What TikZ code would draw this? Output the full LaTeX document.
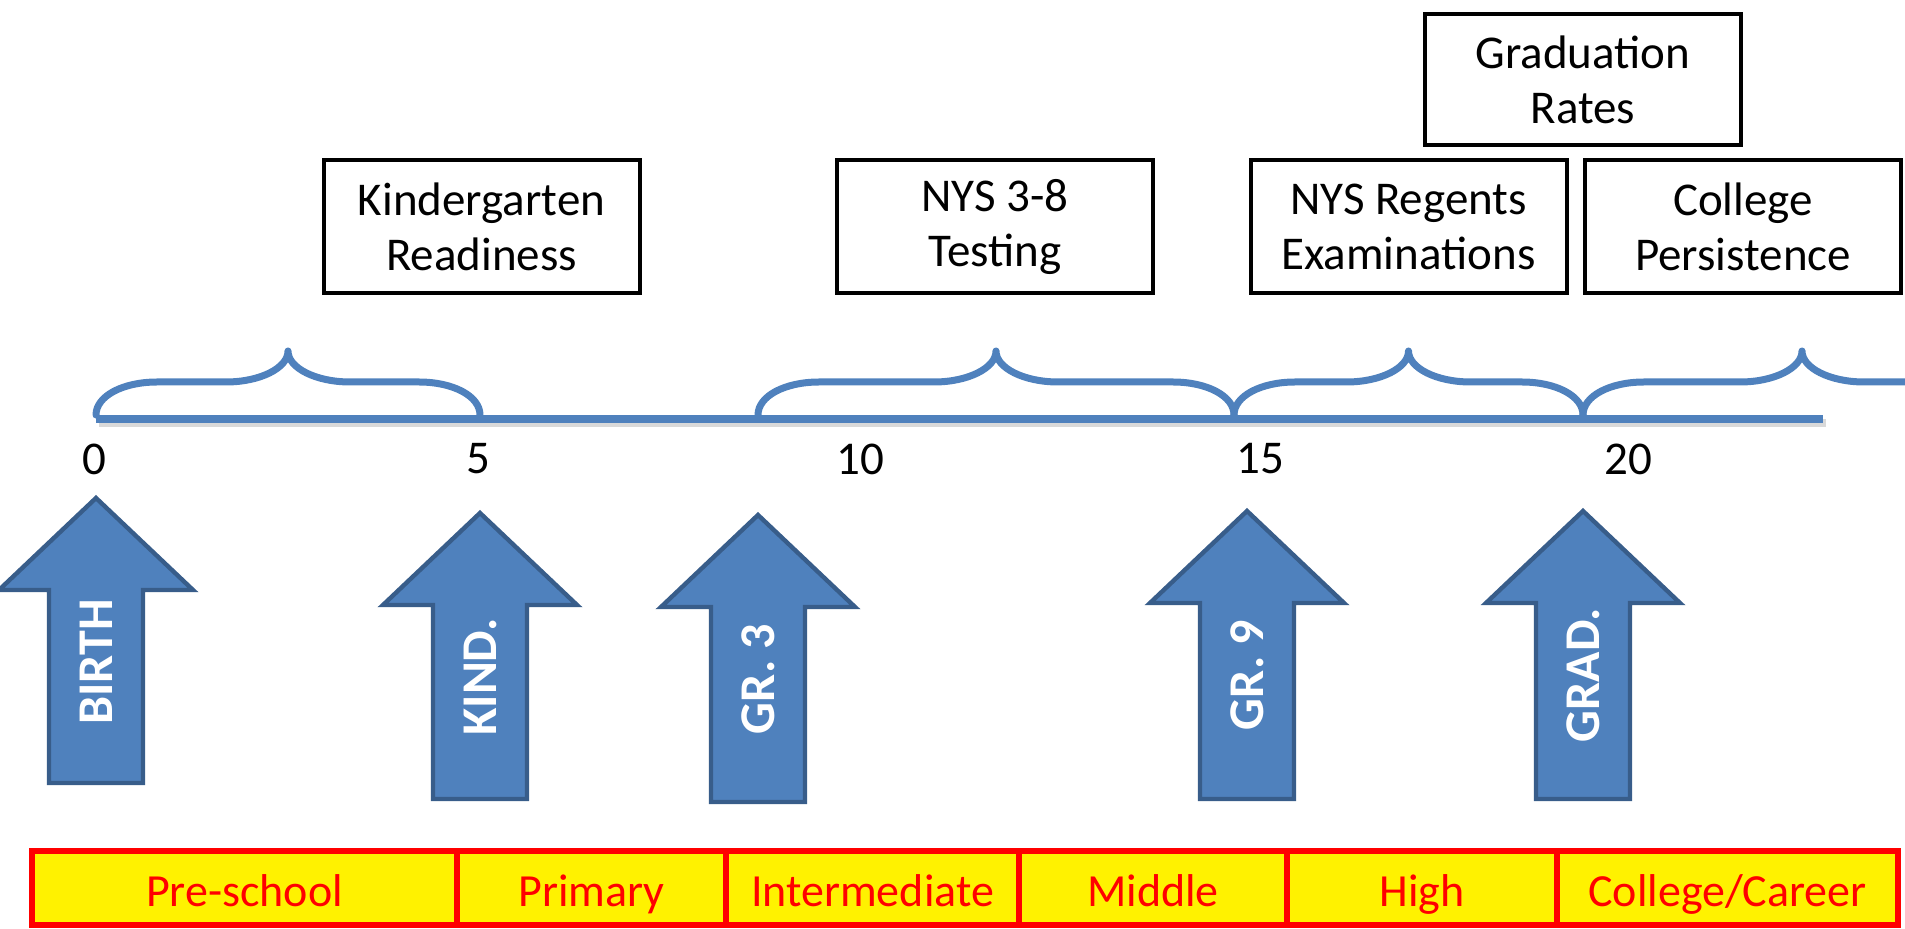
\documentclass[tikz,border=0pt]{standalone}
\usepackage{fontspec}
\setmainfont{Carlito}
\definecolor{obl}{HTML}{4F81BD}
\definecolor{obd}{HTML}{385D8A}
\newcommand\uparrowmark[5]{% name, cx, tip y, bottom y, label
  \draw[arrowbody] (#2,#3) -- (#2+97,#3+92) -- (#2+47,#3+92) -- (#2+47,#4)
     -- (#2-47,#4) -- (#2-47,#3+92) -- (#2-97,#3+92) -- cycle;
  \node[arrowlab] (#1) at (#2,#3+164) {#5};}
\newcommand\tlbrace[2]{% xL, xR
  \pgfmathsetmacro\xm{(#1+#2)/2}
  \draw[bracestyle] (#1,415) .. controls (#1,396) and (#1+27,382) .. (#1+61,382)
     -- (\xm-62,382) .. controls (\xm-28,382) and (\xm,368) .. (\xm,351)
     .. controls (\xm,368) and (\xm+28,382) .. (\xm+62,382)
     -- (#2-61,382) .. controls (#2-27,382) and (#2,396) .. (#2,415);}
\begin{document}
\begin{tikzpicture}[x=0.5pt,y=-0.5pt,
  infobox/.style={draw=black, line width=2pt, fill=white, align=center, inner sep=0pt,
     minimum width=158pt, minimum height=66.5pt, font=\fontsize{23.5}{27.5}\selectfont},
  ticklab/.style={font=\fontsize{23.5}{27.5}\selectfont, inner sep=0pt},
  cell/.style={draw=red, fill=yellow, line width=3pt, minimum height=37pt, inner sep=0pt,
     text=red, font=\fontsize{23}{27.5}\selectfont, text height=22pt, text depth=4pt},
  arrowbody/.style={fill=obl, draw=obd, line width=2.2pt, line join=miter},
  arrowlab/.style={text=white, font=\bfseries\fontsize{25}{30}\selectfont, rotate=90, inner sep=0pt},
  bracestyle/.style={draw=obl, line width=3.5pt, line cap=round, line join=round},
  axisline/.style={draw=obl, line width=4pt},
  axisshadow/.style={draw=black, opacity=0.15, line width=4pt}]
\useasboundingbox (0,0) rectangle (1905,929);

% info boxes
\node[infobox] (kr) at (481.5,226.5) {Kindergarten\\Readiness};
\node[infobox] (nys) at (995,226.5) {NYS 3-8\\Testing};
\node[infobox] (reg) at (1408.5,226.5) {NYS Regents\\Examinations};
\node[infobox] (cp) at (1743,227) {College\\Persistence};
\node[infobox, minimum height=65.5pt] (gr) at (1583,79.5) {Graduation\\Rates};

% timeline
\coordinate (tlstart) at (96,419);
\coordinate (tlend) at (1823,419);
\draw[axisshadow] ([shift={(3,4)}]tlstart) -- ([shift={(3,4)}]tlend);
\draw[axisline] (tlstart) -- (tlend);

% braces
\tlbrace{96}{480}
\tlbrace{758}{1234}
\tlbrace{1234}{1583}
\begin{scope}
  \clip (0,0) rectangle (1905,929);
  \tlbrace{1583}{2021}
\end{scope}

% tick labels
\node[ticklab] (t0) at (94,459) {0};
\node[ticklab] (t5) at (478,459) {5};
\node[ticklab] (t10) at (860,459) {10};
\node[ticklab] (t15) at (1260,459) {15};
\node[ticklab] (t20) at (1628,459) {20};

% milestone arrows
\uparrowmark{birth}{96}{498}{783}{BIRTH}
\uparrowmark{kind}{480}{513}{799}{KIND.}
\uparrowmark{gr3}{758}{515}{802}{GR. 3}
\uparrowmark{gr9}{1247}{511}{799}{GR. 9}
\uparrowmark{grad}{1583}{511}{799}{GRAD.}

% school levels bar
\node[cell, minimum width=212.5pt] (c1) at (244.5,888) {Pre-school};
\node[cell, minimum width=134.5pt] (c2) at (591.5,888) {Primary};
\node[cell, minimum width=146.5pt] (c3) at (872.5,888) {Intermediate};
\node[cell, minimum width=134pt] (c4) at (1153,888) {Middle};
\node[cell, minimum width=135pt] (c5) at (1422,888) {High};
\node[cell, minimum width=170.5pt] (c6) at (1727.5,888) {College/Career};
\end{tikzpicture}
\end{document}
